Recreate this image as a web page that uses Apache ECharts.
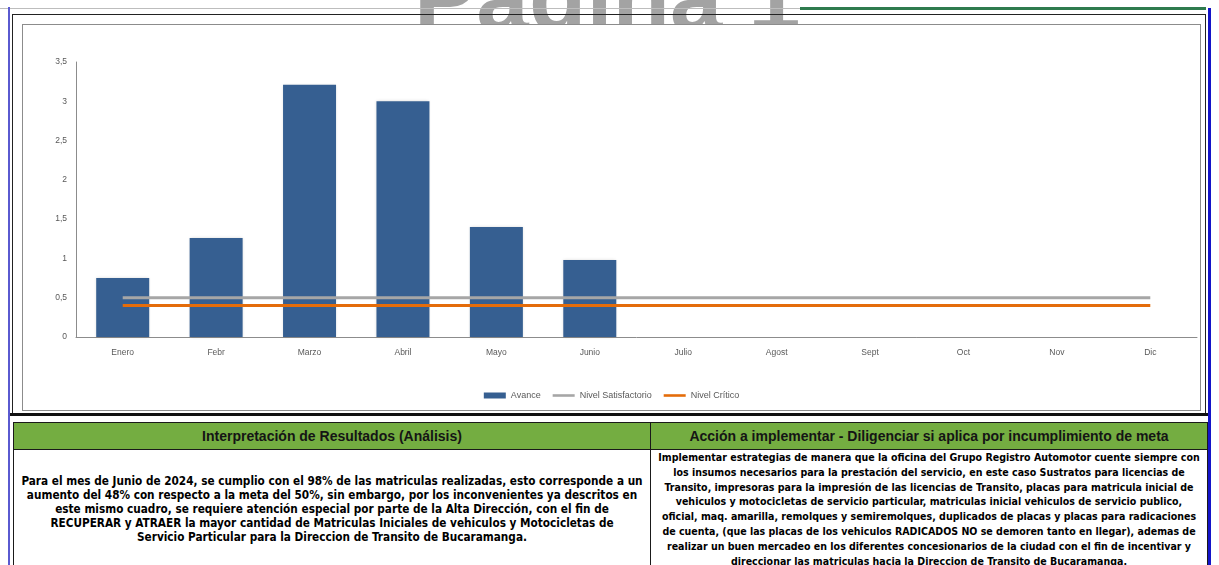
<!DOCTYPE html>
<html>
<head>
<meta charset="utf-8">
<script src="https://cdn.jsdelivr.net/npm/echarts@6/dist/echarts.min.js"></script>
<style>
  html, body { margin: 0; padding: 0; background: #fff; width: 1219px; height: 565px; overflow: hidden; position: relative; }
  .abs { position: absolute; }
  #wm { left: 414px; top: -47px; font: bold 94px "Liberation Sans", Arial, sans-serif; line-height: 90px; color: #a3a3a3; white-space: nowrap; }
  #chartBox { left: 22px; top: 24px; width: 1177px; height: 385px; border: 1px solid #8c8c8c; background: #fff; }
  #chart { left: 0; top: 0; width: 1177px; height: 385px; }
  .hdr { position: absolute; top: 422px; height: 26px; background: #74ad41; border: 1px solid #1a1a1a; box-sizing: content-box;
         font: bold 14px "Liberation Sans Narrow", "Liberation Sans", sans-serif; color: #151515; text-align: center; line-height: 26px; white-space: nowrap; }
  .cell { position: absolute; top: 449px; height: 130px; border-left: 1px solid #1a1a1a; border-right: 1px solid #1a1a1a; border-top: 1px solid #1a1a1a; background: #fff; }
  .txt { position: absolute; font-family: "DejaVu Sans Condensed", "DejaVu Sans", sans-serif; font-weight: bold; color: #000; text-align: center; white-space: nowrap; }
</style>
</head>
<body>
<div id="wm" class="abs">Página 1</div>
<div class="abs" style="left:0;top:8px;width:800px;height:1px;background:#bdbdbd"></div>
<div class="abs" style="left:800px;top:7px;width:406px;height:3px;background:#2e7b4e"></div>
<div class="abs" style="left:8px;top:7px;width:2px;height:560px;background:#5a5ad0"></div>
<div class="abs" style="left:1208px;top:8px;width:3px;height:560px;background:#1414c8"></div>
<div class="abs" style="left:12px;top:14px;width:1192px;height:400px;border:1px solid #222;border-bottom:none"></div>
<div id="chartBox" class="abs"><div id="chart" class="abs"></div></div>
<div class="abs" style="left:10px;top:413px;width:1198px;height:3px;background:#111"></div>

<div class="hdr" style="left:13px;width:636px">Interpretación de Resultados (Análisis)</div>
<div class="hdr" style="left:650px;width:556px">Acción a implementar - Diligenciar si aplica por incumplimiento de meta</div>
<div class="cell" style="left:13px;width:636px"></div>
<div class="cell" style="left:650px;width:556px"></div>
<div id="leftTxt" class="txt" style="left:14px;width:636px;top:474px;font-size:11.7px;line-height:14px"></div>
<div id="rightTxt" class="txt" style="left:651px;width:556px;top:450px;font-size:10.55px;line-height:14.8px"></div>

<script>
// ---- data ----
var months = ['Enero', 'Febr', 'Marzo', 'Abril', 'Mayo', 'Junio', 'Julio', 'Agost', 'Sept', 'Oct', 'Nov', 'Dic'];
var avance = [0.75, 1.26, 3.21, 3.0, 1.40, 0.98, null, null, null, null, null, null];
var nivelSatisfactorio = [0.5, 0.5, 0.5, 0.5, 0.5, 0.5, 0.5, 0.5, 0.5, 0.5, 0.5, 0.5];
var nivelCritico = [0.4, 0.4, 0.4, 0.4, 0.4, 0.4, 0.4, 0.4, 0.4, 0.4, 0.4, 0.4];
var seriesNames = ['Avance', 'Nivel Satisfactorio', 'Nivel Crítico'];
var analisisLines = [
  'Para el mes de Junio de 2024, se cumplio con el 98% de las matriculas realizadas, esto corresponde a un',
  'aumento del 48% con respecto a la meta del 50%, sin embargo, por los inconvenientes ya descritos en',
  'este mismo cuadro, se requiere atención especial por parte de la Alta Dirección, con el fin de',
  'RECUPERAR y ATRAER la mayor cantidad de Matriculas Iniciales de vehiculos y Motocicletas de',
  'Servicio Particular para la Direccion de Transito de Bucaramanga.'
];
var accionLines = [
  'Implementar estrategias de manera que la oficina del Grupo Registro Automotor cuente siempre con',
  'los insumos necesarios para la prestación del servicio, en este caso Sustratos para licencias de',
  'Transito, impresoras para la impresión de las licencias de Transito, placas para matricula inicial de',
  'vehiculos y motocicletas de servicio particular, matriculas inicial vehiculos de servicio publico,',
  'oficial, maq. amarilla, remolques y semiremolques, duplicados de placas y placas para radicaciones',
  'de cuenta, (que las placas de los vehiculos RADICADOS NO se demoren tanto en llegar), ademas de',
  'realizar un buen mercadeo en los diferentes concesionarios de la ciudad con el fin de incentivar y',
  'direccionar las matriculas hacia la Direccion de Transito de Bucaramanga.'
];

function fill(id, lines) {
  var el = document.getElementById(id);
  lines.forEach(function (l) { var d = document.createElement('div'); d.textContent = l; el.appendChild(d); });
}
fill('leftTxt', analisisLines);
fill('rightTxt', accionLines);

var font = '"Liberation Sans Narrow", "Liberation Sans", sans-serif';
var lineIcon = 'path://M0,0h22v2.6h-22z';
var chart = echarts.init(document.getElementById('chart'), null, { renderer: 'canvas' });
chart.setOption({
  animation: false,
  textStyle: { fontFamily: font },
  legend: {
    data: [
      { name: seriesNames[0], icon: 'rect' },
      { name: seriesNames[1], icon: lineIcon },
      { name: seriesNames[2], icon: lineIcon }
    ],
    left: 'center', top: 361,
    itemWidth: 22, itemHeight: 6, itemGap: 12,
    textStyle: { fontSize: 9, color: '#595959', fontFamily: font }
  },
  grid: { left: 53, right: 3, top: 37, bottom: 73, containLabel: false },
  xAxis: {
    type: 'category', data: months, boundaryGap: true,
    axisLine: { lineStyle: { color: '#8c8c8c', width: 1 } },
    axisTick: { show: false },
    axisLabel: { color: '#595959', fontSize: 8.5, margin: 11, fontFamily: font }
  },
  yAxis: {
    type: 'value', min: 0, max: 3.5, interval: 0.5,
    axisLine: { show: true, lineStyle: { color: '#8c8c8c', width: 1 } },
    axisTick: { show: false },
    splitLine: { show: false },
    axisLabel: { color: '#595959', fontSize: 8.5, margin: 9, fontFamily: font,
      formatter: function (v) { return String(v).replace('.', ','); } }
  },
  series: [
    { name: seriesNames[0], type: 'bar', data: avance, barWidth: 53,
      itemStyle: { color: '#365f91', shadowColor: 'rgba(0,0,0,0.15)', shadowBlur: 3 }, z: 1 },
    { name: seriesNames[1], type: 'line', data: nivelSatisfactorio, symbol: 'none',
      lineStyle: { color: '#a6a6a6', width: 3 }, itemStyle: { color: '#a6a6a6' }, z: 3 },
    { name: seriesNames[2], type: 'line', data: nivelCritico, symbol: 'none',
      lineStyle: { color: '#e46c0a', width: 3 }, itemStyle: { color: '#e46c0a' }, z: 4 }
  ]
});
</script>
</body>
</html>
